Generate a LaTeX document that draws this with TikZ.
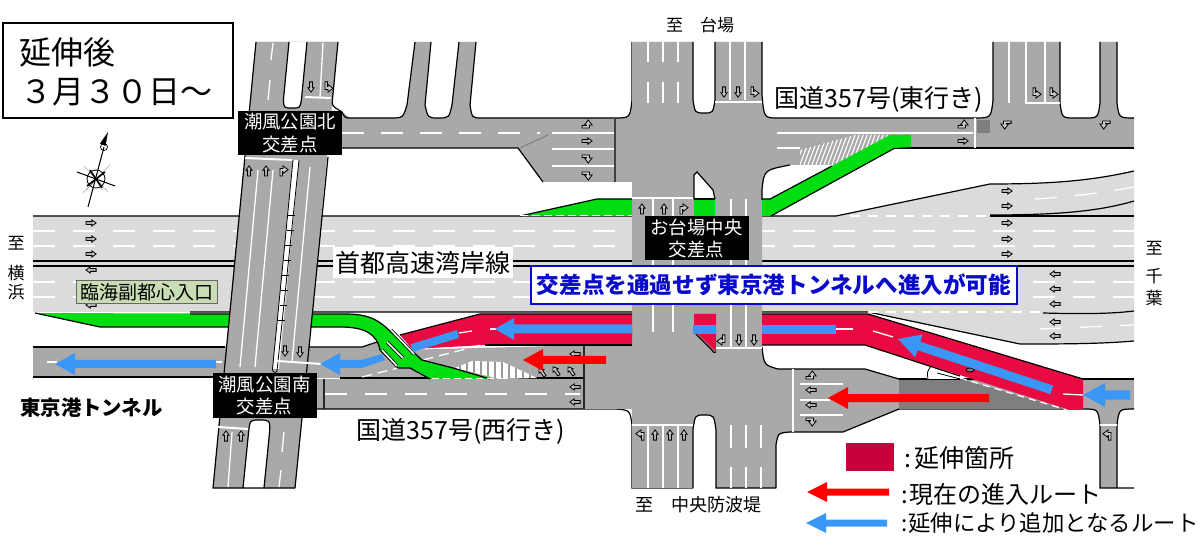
\documentclass[tikz,border=0pt]{standalone}
\usepackage{fontspec}
\setmainfont{Noto Sans CJK JP}
\definecolor{road}{HTML}{A9A9A9}
\definecolor{hiway}{HTML}{DBDBDB}
\definecolor{darkroad}{HTML}{7F7F7F}
\definecolor{ramp}{HTML}{00DD10}
\definecolor{ext}{HTML}{EA0A42}
\definecolor{extkey}{HTML}{C6003A}
\definecolor{bluearr}{HTML}{3A97F5}
\definecolor{redarr}{HTML}{FF0000}
\definecolor{notegreen}{HTML}{C8DDB4}
\definecolor{noteblue}{HTML}{0A0ACC}
\newcommand\fs[1]{\fontsize{#1}{#1}\selectfont}
% straight hollow arrow, pointing right at angle 0
\newcommand\sarr[3]{\draw[smallarr,shift={(#1,#2)},rotate=#3,scale=.85] (-6,-1.6)--(1,-1.6)--(1,-3.6)--(6,0)--(1,3.6)--(1,1.6)--(-6,1.6)--cycle;}
% bent hollow arrow: stem up, head right at angle 0, scale 1
\newcommand\tarr[4]{\draw[smallarr,shift={(#1,#2)},rotate=#3,xscale=#4,scale=.85] (-3.5,6)--(-3.5,-3)--(0,-3)--(0,-6)--(6,-1.5)--(0,3)--(0,0.5)--(-0.5,0.5)--(-0.5,6)--cycle;}
% filled route arrow, tip at origin, pointing left at angle 0
\newcommand\route[8]{\fill[#1,shift={(#2,#3)},rotate=#4] (0,0)--(#8,-#7)--(#8,-#6)--(#5,-#6)--(#5,#6)--(#8,#6)--(#8,#7)--cycle;}
\tikzset{
  smallarr/.style={draw=black,fill=black!22,line width=.8pt,line join=miter},
  edge/.style={draw=black,line width=1.2pt},
  thin edge/.style={draw=black,line width=.8pt},
  lane/.style={draw=white,line width=1.3pt},
  lanedash/.style={draw=white,line width=1.2pt,dash pattern=on 22pt off 18pt},
  stopline/.style={draw=white,line width=2pt},
  lbl/.style={inner sep=0pt,text=black,align=center},
  crossing/.style={fill=black,text=white,inner sep=0pt,minimum width=104pt,minimum height=44pt,align=center,font=\fs{18.4}},
}
\begin{document}
\begin{tikzpicture}[x=1pt,y=-1pt]
\useasboundingbox (0,0) rectangle (1200,545);
\fill[white] (0,0) rectangle (1200,545);

% ---------- expressway ----------
\fill[hiway] (33,216)--(836,216)--(990,184) .. controls (1050,184) and (1090,181) .. (1134,171)--(1134,341) .. controls (1090,344) and (1060,344) .. (1020,344)--(868,312)--(33,312)--cycle;
\draw[edge] (33,216)--(836,216)--(990,184) .. controls (1050,184) and (1090,181) .. (1134,171);
\draw[edge] (990,215) .. controls (1060,215) and (1100,211) .. (1134,201);
\draw[edge] (990,216)--(1134,216);
\draw[edge] (33,261)--(1134,261);
\draw[edge] (33,266)--(1134,266);
\draw[edge] (190,312)--(868,312)--(1020,344) .. controls (1060,344) and (1100,344) .. (1134,341);
\draw[edge] (1043,313) .. controls (1080,314) and (1110,314) .. (1134,311);
\foreach \yy in {231,246,282,297}{\draw[lanedash] (33,\yy)--(1134,\yy);}
\draw[lanedash,dash pattern=on 10pt off 8pt] (850,216)--(990,216);
\draw[lanedash,dash pattern=on 10pt off 8pt] (868,312)--(1043,312);
\draw[lanedash] (1035,199) .. controls (1070,197) and (1100,193) .. (1134,187);
\draw[lanedash] (1040,329)--(1134,325);

% ---------- north-west road ----------
\fill[road] (256,42)--(338,42)--(295,488)--(213,488)--cycle;
\fill[road] (342,112) -- (350,118)--(390,118) .. controls (403,118) .. (407,105)--(415,42)--(431,42)--(425,105) .. controls (428,118) .. (438,118) .. controls (449,118) .. (452,105)--(459,42)--(476,42)--(470,105) .. controls (472,118) .. (482,118)--(615,118) .. controls (630,118) .. (632,100)--(632,182)--(543,182)--(518,148)--(325,148)--(325,112)--cycle;
\draw[edge] (342,112) .. controls (345,118) .. (352,118)--(390,118) .. controls (403,118) .. (407,105)--(415,42);
\draw[edge] (431,42)--(425,105) .. controls (428,118) .. (438,118) .. controls (449,118) .. (452,105)--(459,42);
\draw[edge] (476,42)--(470,105) .. controls (472,118) .. (482,118)--(615,118) .. controls (630,118) .. (632,100)--(632,42);
\draw[edge] (342,148)--(518,148)--(543,182);
\draw[lanedash,dash pattern=on 22pt off 17pt] (342,133)--(540,133);
\foreach \yy in {133,149,166}{\draw[lane] (552,\yy)--(615,\yy);}
\draw[line width=1pt,draw=gray] (520,148)--(548,135);
\draw[line width=2.4pt,draw=black!75] (615,118)--(615,182);

% ---------- centre, north half ----------
\fill[road] (632,42)--(693,42)--(693,100) .. controls (695,113) .. (704,113) .. controls (713,113) .. (715,100)--(715,42)--(762,42)--(762,95) .. controls (764,118) .. (778,118)--(975,118) .. controls (991,118) .. (993,100)--(993,42)--(1060,42)--(1060,103) .. controls (1062,118) .. (1075,118)--(1085,118) .. controls (1098,118) .. (1100,103)--(1100,42)--(1117,42)--(1117,103) .. controls (1119,118) .. (1134,118)--(1134,148)--(860,148)--(835,165)--(790,165) .. controls (764,170) .. (762,190)--(762,348)--(632,348)--cycle;
\draw[edge] (693,42)--(693,100) .. controls (695,113) .. (704,113) .. controls (713,113) .. (715,100)--(715,42);
\draw[edge] (762,42)--(762,95) .. controls (764,118) .. (778,118)--(975,118) .. controls (991,118) .. (993,100)--(993,42);
\draw[edge] (1060,42)--(1060,103) .. controls (1062,118) .. (1075,118)--(1085,118) .. controls (1098,118) .. (1100,103)--(1100,42);
\draw[edge] (1117,42)--(1117,103) .. controls (1119,118) .. (1134,118);
\draw[edge] (895,148)--(1134,148);
\draw[edge] (790,165) .. controls (764,170) .. (762,190)--(762,200);
\fill[darkroad] (977,120) rectangle (990,133);

% islands and the two green access ramps
\fill[white] (694,199)--(694,175)--(697,172)--(713,190)--(715,199)--cycle;
\draw[edge] (694,199)--(694,175)--(697,172)--(713,190)--(715,199);
\fill[ramp] (694,199) rectangle (715,216);
\draw[edge] (694,199)--(715,199);
\fill[ramp] (520,216)--(597,199)--(632,199)--(632,216)--cycle;
\draw[edge] (520,216)--(597,199)--(632,199);
\draw[draw=white,line width=1pt,dash pattern=on 8pt off 4pt] (520,216)--(632,216);
\fill[road] (833,148)--(860,135)--(895,135)--(840,165)--(800,165)--(800,150)--cycle;
\begin{scope}
\clip (800,150)--(855,135)--(890,135)--(832,166)--(800,166)--cycle;
\foreach \i in {0,4,...,120}{\draw[white,line width=1.2pt] (790+\i,170)--(805+\i,130);}
\end{scope}
\draw[lane] (777,133)--(973,133);
\draw[lane] (777,148)--(800,148);
\fill[ramp] (762,199)--(770,199)--(890,135)--(911,135)--(911,147)--(895,148)--(771,216)--(762,216)--cycle;
\draw[edge] (762,199)--(770,199)--(832,166);
\draw[edge] (771,216)--(895,148);
\draw[stopline,line width=2.5pt] (975,118)--(975,148);

% ---------- south-west roads ----------
\fill[road] (33,347)--(362,347)--(380,341)--(400,360)--(400,378)--(33,378)--cycle;
\draw[edge] (33,347)--(225,347);
\draw[edge] (300,347)--(362,347)--(380,341);
\draw[edge] (33,377)--(225,377);
\draw[lane] (47,362)--(57,362);
\draw[lane] (216,362)--(222,362);
\fill[road] (400,350)--(632,344)--(632,379)--(395,379)--cycle;
\fill[road] (316,379)--(632,379)--(632,409)--(316,409)--cycle;
\draw[edge] (340,378)--(430,378);
\draw[edge,line width=1.6pt] (508,378)--(584,378);
\draw[edge] (316,409)--(615,409) .. controls (630,410) .. (632,425)--(632,488)--(693,488);
\draw[line width=2.2pt,draw=black!85] (324,379)--(324,409);
\draw[lanedash,dash pattern=on 22pt off 18pt] (325,394)--(580,394);
\draw[lane] (600,394)--(620,394);

% ---------- centre, south half ----------
\fill[road] (584,345)--(762,345) .. controls (764,365) .. (778,369)--(865,369)--(899,379)--(1134,379)--(1134,409) .. controls (1119,409) .. (1117,425)--(1117,488)--(1100,488)--(1100,425) .. controls (1098,409) .. (1083,409)--(899,409)--(843,432)--(790,432) .. controls (778,433) .. (776,445)--(776,488)--(716,488)--(716,430) .. controls (714,415) .. (704,415) .. controls (695,415) .. (693,430)--(693,488)--(632,488)--(632,409)--(584,409)--cycle;
\draw[edge] (762,347) .. controls (764,365) .. (778,369)--(865,369)--(899,379);
\draw[edge] (899,409)--(843,432)--(790,432) .. controls (778,433) .. (776,445)--(776,488);
\draw[edge] (693,488)--(693,430) .. controls (695,415) .. (704,415) .. controls (714,415) .. (716,430)--(716,488)--(776,488);
\draw[edge] (899,409)--(1083,409) .. controls (1098,409) .. (1100,425)--(1100,488)--(1117,488)--(1134,488);
\draw[edge] (1117,488)--(1117,425) .. controls (1119,409) .. (1134,409);
\draw[edge] (960,379)--(1134,379);
\fill[darkroad] (899,379)--(960,379)--(1067,409)--(899,409)--cycle;
\draw[edge] (899,379)--(960,379);
\fill[white] (931,366)--(927,379)--(960,379)--cycle;
\draw[thin edge] (931,366) .. controls (927,372) .. (928,379);
\draw[thin edge] (937,373)--(960,379);
\draw[line width=2.2pt,draw=black!85] (584,345)--(584,409);
\foreach \yy in {384,415}{\draw[lane] (800,\yy)--(843,\yy);}
\draw[lane] (800,400)--(830,400);
\draw[lane] (793,369)--(793,432);
\foreach \xx in {648,663,678}{\draw[lane] (\xx,425)--(\xx,488);}
\draw[stopline] (632,425)--(693,425);
\foreach \xx in {731,746,761}{\draw[lane] (\xx,425)--(\xx,448);\draw[lane] (\xx,467)--(\xx,488);}
\draw[stopline] (1100,425)--(1117,425);

% ---------- extension (red) ----------
\fill[ext] (480,314)--(632,314)--(632,345)--(485,345)--(412,349)--(400,335)--cycle;
\draw[edge] (400,335)--(480,314)--(632,314);
\draw[edge] (485,345)--(632,345);
\fill[ext] (694,314)--(716,314)--(716,352)--(694,330)--cycle;
\fill[ext] (762,314)--(868,314)--(1083,379)--(1083,409)--(1067,409)--(865,345)--(762,345)--cycle;
\draw[edge] (762,314)--(868,314)--(1083,379);
\draw[edge] (762,345)--(865,345)--(960,376);
\draw[edge] (694,332)--(712,350) .. controls (714,353) .. (716,352);
\draw[white,line width=1.2pt,dash pattern=on 7pt off 5pt] (960,378)--(1067,410);
\draw[lane] (836,329)--(853,329);
\draw[lane] (873,331)--(893,337);
\draw[lane] (459,333)--(472,331);
\draw[lane] (490,329)--(496,329);
\draw[lane] (1063,394)--(1083,395);

% ---------- white dashed guide lines ----------
\draw[white,line width=1.3pt,dash pattern=on 10pt off 6pt] (362,377)--(398,368)--(423,360)--(485,344);

% ---------- hatched zebra ----------
\fill[white] (455,368)--(472,361)--(503,362)--(537,378)--(500,379)--cycle;
\begin{scope}
\clip (455,368)--(472,361)--(503,362)--(537,378)--(500,379)--cycle;
\foreach \i in {460,467,...,540}{\draw[gray!80,line width=2.5pt] (\i,358)--(\i,380);}
\end{scope}

% ---------- green ramp to the tunnel ----------
\fill[ramp] (35,313)--(345,314) .. controls (372,314) and (380,322) .. (390,331)--(422,360)--(453,368)--(495,379)--(430,379)--(410,368)--(398,368)--(380,350) .. controls (377,334) and (365,327) .. (340,327)--(100,327)--cycle;
\draw[edge] (190,314)--(345,314) .. controls (372,314) and (380,322) .. (390,331)--(422,360)--(453,368)--(490,379);
\draw[edge] (430,379)--(410,368)--(398,368)--(380,350) .. controls (377,334) and (365,327) .. (340,327)--(100,327)--(35,313);
\draw[draw=white,line width=1pt,dash pattern=on 5pt off 2pt] (40,313)--(190,313);
\draw[draw=white,line width=1pt,dash pattern=on 7pt off 4pt] (432,379)--(505,379);
\draw[black,line width=3.2pt] (391,330)--(414,354);
\draw[white,line width=1.6pt] (391,330)--(414,354);
\draw[black,line width=3.2pt] (387,342)--(403,358);
\draw[white,line width=1.6pt] (387,342)--(403,358);
\draw[black,line width=3.2pt] (382,350)--(397,366);
\draw[white,line width=1.6pt] (382,350)--(397,366);

% ---------- oblique road over everything ----------
\fill[road] (256,42)--(338,42)--(295,488)--(213,488)--cycle;
\fill[white] (289,42)--(307,42)--(301.4,100) .. controls (300,108) .. (292,108) .. controls (284,108) .. (283.4,100)--cycle;
\draw[edge] (289,42)--(283.4,100) .. controls (284,108) .. (292,108) .. controls (300,108) .. (301.4,100)--(307,42);
\fill[white] (243,488)--(264,488)--(269.6,432) .. controls (270,420) .. (259,420) .. controls (250,420) .. (248.6,432)--cycle;
\draw[edge] (243,488)--(248.6,432) .. controls (250,420) .. (259,420) .. controls (270,420) .. (269.6,432)--(264,488);
\draw[edge] (256,42)--(213,488)--(295,488);
\draw[edge] (338,42)--(332.4,100) .. controls (332,106) .. (342,112);
\draw[edge] (328,157)--(295,488);
\fill[white] (293,160)--(299,160)--(279,369)--(273,369)--cycle;
\draw[thin edge] (293,160)--(272.5,369) .. controls (272,372) and (276,374) .. (277,371)--(299,160);
\foreach \yy in {215,230,245,260,275,290,305,320}{\draw[thin edge] (288-\yy*0.0964+21,\yy)--(295-\yy*0.0964+21,\yy);}
\draw[lane] (258,170)--(240,367);
\draw[lane] (273,170)--(255,367);
\draw[lane] (310,167)--(292,362);
\draw[lane] (273,43)--(271,60);
\draw[lane] (270,80)--(268,100);
\draw[lane] (323,43)--(320,97);
\draw[lane] (232,432)--(228,487);
\draw[lane] (284,432)--(282,452);
\draw[lane] (281,470)--(279,487);
\draw[stopline] (245,158)--(292,160);
\draw[stopline] (305,97)--(331,98);
\draw[stopline] (277,361)--(322,364);
\draw[stopline] (218,427)--(248,429);

% north approach lanes
\foreach \xx in {648,663,678}{\draw[lane] (\xx,42)--(\xx,62);\draw[lane] (\xx,82)--(\xx,103);}
\foreach \xx in {730,745}{\draw[lane] (\xx,42)--(\xx,100);}
\draw[stopline] (715,102)--(762,102);
\foreach \xx in {653,673}{\draw[lane] (\xx,199)--(\xx,332);}
\foreach \xx in {731,746}{\draw[lane] (\xx,199)--(\xx,347);}
\draw[stopline] (632,198)--(693,198);
\draw[stopline] (716,348)--(762,348);
\draw[lane] (1009,42)--(1009,103);
\draw[line width=1.3pt,white] (1060,103)--(1026,103)--(1026,42);
\draw[lane] (1045,42)--(1045,103);

% ---------- road marking arrows ----------
\foreach \yy in {223,239,254}{\sarr{91}{\yy}{0}}
\foreach \yy in {270,305}{\sarr{91}{\yy}{180}}
\foreach \yy in {191,206,223,239,254}{\sarr{1007}{\yy}{0}}
\foreach \yy in {274,289,304,322,336}{\sarr{1055}{\yy}{180}}
\sarr{587}{141}{0}
\tarr{587}{125}{-90}{-1}
\tarr{587}{158}{-90}{1}
\tarr{587}{175}{-90}{1}
\sarr{963}{141}{0}
\tarr{963}{125}{-90}{-1}
\sarr{249}{171}{90}
\sarr{266}{171}{90}
\tarr{283}{171}{0}{1}
\sarr{311}{87}{-90}
\tarr{328}{87}{180}{-1}
\sarr{285}{351}{-90}
\sarr{300}{352}{-90}
\sarr{226}{436}{90}
\sarr{241}{436}{90}
\sarr{642}{209}{90}
\sarr{664}{209}{90}
\tarr{683}{209}{0}{1}
\sarr{724}{92}{-90}
\sarr{738}{92}{-90}
\tarr{754}{92}{180}{-1}
\tarr{722}{340}{180}{1}
\sarr{739}{340}{-90}
\sarr{754}{340}{-90}
\tarr{641}{435}{0}{-1}
\sarr{655}{435}{90}
\sarr{670}{435}{90}
\sarr{684}{435}{90}
\tarr{1036}{93}{180}{-1}
\tarr{1053}{93}{180}{-1}
\tarr{1006}{124}{90}{-1}
\tarr{1105}{124}{90}{-1}
\sarr{575}{354}{180}
\sarr{575}{387}{180}
\sarr{575}{402}{180}
\sarr{542}{372}{125}
\sarr{556}{371}{125}
\sarr{571}{371}{125}
\tarr{811}{376}{-90}{-1}
\sarr{811}{390}{180}
\sarr{811}{405}{180}
\tarr{811}{421}{-90}{1}
\tarr{1108}{435}{0}{-1}
\draw[black,fill=darkroad,line width=.8pt] (970,370) ellipse (4 and 2);

% ---------- route arrows ----------
\route{bluearr}{55}{364}{0}{161}{4}{11}{20}
\route{bluearr}{495}{329}{0}{137}{4.5}{11}{19}
\route{redarr}{523}{360}{0}{83}{4}{11}{20}
\route{redarr}{828}{398}{0}{161}{4}{11}{20}
\route{bluearr}{898}{339}{-18.3}{162}{4.5}{12}{22}
\route{bluearr}{1083}{395}{0}{47}{4.5}{12}{22}
\route{redarr}{807}{492}{0}{82}{3.5}{10}{20}
\route{bluearr}{806}{523}{0}{81}{3.5}{10}{20}
\fill[bluearr] (320,364)--(340,353)--(340,360)--(361,360)--(382,354)--(385,360)--(362,368)--(340,368)--(340,375)--cycle;
\draw[bluearr,line width=8pt] (412,348)--(458,334);
\draw[bluearr,line width=9pt] (693,330)--(716,330);
\draw[bluearr,line width=9pt] (762,330)--(836,330);

% ---------- legend and texts ----------
\fill[extkey] (846,443) rectangle (894,471);
\node[lbl,font=\fs{25},anchor=west] (keyext) at (904,458) {:\hspace{3pt}延伸箇所};
\node[lbl,font=\fs{24},anchor=west] (keynow) at (901,494) {:\hspace{2pt}現在の進入ルート};
\node[lbl,font=\fs{22.4},anchor=west] (keyadd) at (901,523) {:\hspace{1pt}延伸により追加となるルート};
\node[draw=black,line width=2pt,fill=white,minimum width=230pt,minimum height=95pt,inner sep=0pt,anchor=north west] (title) at (2,22) {};
\node[lbl,font=\fs{32},anchor=west] (titlea) at (19,52) {延伸後};
\node[lbl,font=\fs{32},anchor=west] (titleb) at (20,92) {３月３０日～};
\node[crossing] (nkita) at (290,133) {潮風公園北\\[4pt]交差点};
\node[crossing] (chuo) at (696.5,238.5) {お台場中央\\[4pt]交差点};
\node[crossing] (nminami) at (264.5,395.5) {潮風公園南\\[4pt]交差点};
\node[lbl,fill=white,font=\fs{25},minimum width=180pt,minimum height=31pt] (wangan) at (423,262.5) {首都高速湾岸線};
\node[draw=black!60,line width=1pt,fill=notegreen,text=black,font=\fs{19},minimum width=141pt,minimum height=23pt,inner sep=0pt] (rinkai) at (146.5,292.5) {臨海副都心入口};
\node[draw=noteblue,line width=1.6pt,fill=white,text=noteblue,font=\bfseries\fs{22.6},minimum width=486pt,minimum height=38pt,inner sep=0pt] (note) at (774,285) {交差点を通過せず東京港トンネルへ進入が可能};
\node[lbl,font=\fs{25}] (east) at (879,99) {国道357号(東行き)};
\node[lbl,font=\fs{25}] (west) at (461,431) {国道357号(西行き)};
\node[lbl,font=\bfseries\fs{20.4}] (tunnel) at (91.5,408) {東京港トンネル};
\node[lbl,font=\fs{17}] (daiba) at (700,25) {至\hspace{17pt}台場};
\node[lbl,font=\fs{18}] (bouhatei) at (698,505) {至\hspace{18pt}中央防波堤};
\node[lbl,font=\fs{17}] (to1) at (16,243) {至};
\node[lbl,font=\fs{17}] (to2) at (16,273) {横};
\node[lbl,font=\fs{17}] (to3) at (16,292) {浜};
\node[lbl,font=\fs{17}] (to4) at (1154,248) {至};
\node[lbl,font=\fs{17}] (to5) at (1154,276) {千};
\node[lbl,font=\fs{17}] (to6) at (1154,298) {葉};

% ---------- compass ----------
\draw[black,line width=1pt] (88,207)--(104,147);
\fill[black] (108,132)--(105.5,146)--(100,143.5)--cycle;
\draw[black,line width=.7pt] (104,147) circle (3.5);
\draw[black,line width=1pt] (77,172)--(115,186);
\draw[black,line width=.8pt] (96,179) circle (9);
\fill[black] (96,179)--(84,166)--(93,176)--cycle;
\fill[black] (96,179)--(110,165)--(99,176)--cycle;
\fill[black] (96,179)--(83,193)--(93,183)--cycle;
\fill[black] (96,179)--(108,192)--(99,182)--cycle;
\draw[black,line width=1.6pt] (90,170)--(102,188);
\draw[black,line width=1.6pt] (105,172)--(87,186);
\end{tikzpicture}
\end{document}
